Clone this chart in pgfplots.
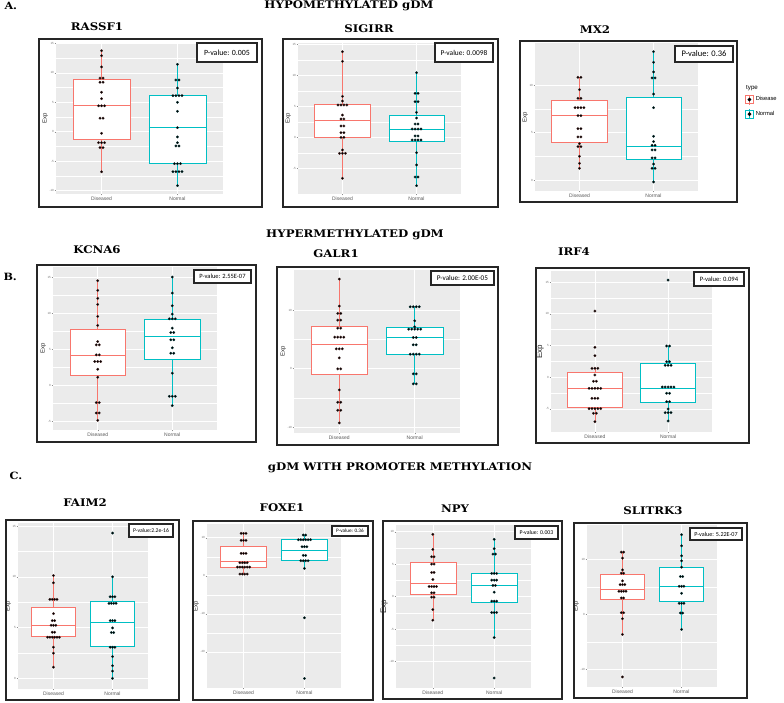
\documentclass[border=0pt]{standalone}
\usepackage{fontspec}
\setmainfont{Liberation Sans}
\newfontfamily\titlefont[FakeStretch=1.12]{DejaVu Serif}
\newfontfamily\pfont{Carlito}
\usepackage{pgfplots}
\pgfplotsset{compat=1.18}
\definecolor{ggred}{HTML}{F8766D}
\definecolor{ggcyan}{HTML}{00BFC4}
\definecolor{ggbg}{HTML}{EBEBEB}
\pgfplotsset{
 gg/.style={
  scale only axis, anchor=north west,
  axis background/.style={fill=ggbg},
  xmin=0.4, xmax=2.6, xtick={1,2}, xticklabels={Diseased,Normal},
  axis x line*=bottom, axis y line*=left,
  axis line style={draw=none},
  xmajorgrids, ymajorgrids, yminorgrids, minor y tick num=1,
  major grid style={white, line width=0.6pt},
  minor grid style={white, line width=0.3pt},
  major tick length=1.3pt, minor tick length=0pt, tick align=outside,
  tick style={black!45, line width=0.3pt},
  yticklabel style={font=\fontsize{3}{3}\selectfont, text=black!55, inner sep=0.6pt},
  xticklabel style={font=\fontsize{5}{6}\selectfont, text=black!65, inner sep=1.2pt},
  ylabel={Exp}, ylabel style={font=\fontsize{6}{6}\selectfont, text=black!85, inner sep=1pt},
  /pgf/number format/assume math mode=true,
 },
 ddot/.style={only marks, mark=*, mark size=1.3pt, mark options={fill=black, draw=ggred!30!black, line width=0.2pt}},
 ndot/.style={only marks, mark=*, mark size=1.3pt, mark options={fill=black, draw=ggcyan!30!black, line width=0.2pt}},
}
% q1 med q3 wlo whi
\newcommand\dbox[5]{%
  \addplot[ggred, line width=0.5pt] coordinates {(1,#4)(1,#5)};
  \addplot[ggred, fill=white, line width=0.5pt] coordinates {(0.625,#1)(1.375,#1)(1.375,#3)(0.625,#3)} -- cycle;
  \addplot[ggred, line width=0.6pt] coordinates {(0.625,#2)(1.375,#2)};
}
\newcommand\nbox[5]{%
  \addplot[ggcyan, line width=0.5pt] coordinates {(2,#4)(2,#5)};
  \addplot[ggcyan, fill=white, line width=0.5pt] coordinates {(1.625,#1)(2.375,#1)(2.375,#3)(1.625,#3)} -- cycle;
  \addplot[ggcyan, line width=0.6pt] coordinates {(1.625,#2)(2.375,#2)};
}
\newcommand\frm[4]{\draw[line width=1.5pt, black!85] (#1pt,-#2pt) rectangle (#3pt,-#4pt);}
\newcommand\pbox[6]{\draw[line width=1.2pt, fill=white, draw=black!85] (#1pt,-#2pt) rectangle (#3pt,-#4pt);
  \node[font=\pfont\fontsize{#5}{#5}\selectfont, inner sep=0pt] at ({(#1+#3)/2*1pt},{-(#2+#4)/2*1pt}) {#6};}
\newcommand\gtitle[3]{\node[font=\titlefont\bfseries\fontsize{10.5}{10.5}\selectfont] at (#1pt,-#2pt) {#3};}
\newcommand\stitle[3]{\node[font=\titlefont\bfseries\fontsize{10.5}{10.5}\selectfont] at (#1pt,-#2pt) {#3};}
\begin{document}
\begin{tikzpicture}
\path[use as bounding box] (0,0) rectangle (784pt,-703pt);
% ---------------- A ----------------
\begin{axis}[gg, at={(56pt,-43pt)}, width=167pt, height=151pt, ymin=-10.57, ymax=15.06, ytick={-10,-5,0,5,10,15}]
\dbox{-1.24}{4.5}{8.9}{-6.8}{13.76}
\nbox{-5.42}{0.69}{6.12}{-9.15}{11.44}
\addplot[ddot] coordinates {(1,13.76)(1,12.9)(1,11)(0.98,9.1)(1.02,9.1)(0.98,8.4)(1.02,8.4)(1,6.7)(1,5.6)(0.96,4.4)(1,4.4)(1.04,4.4)(0.98,2.3)(1.02,2.3)(1,-0.27)(0.96,-1.86)(1,-1.86)(1.04,-1.86)(0.98,-2.7)(1.02,-2.7)(1,-6.8)};
\addplot[ndot] coordinates {(2,11.44)(1.98,8.78)(2.02,8.78)(2,7.42)(1.94,6.12)(1.98,6.12)(2.02,6.12)(2.06,6.12)(2,4.99)(2,3.46)(2,0.69)(2,-0.89)(2,-1.86)(1.98,-2.42)(2.02,-2.42)(1.96,-5.42)(2,-5.42)(2.04,-5.42)(1.94,-6.78)(1.98,-6.78)(2.02,-6.78)(2.06,-6.78)(2,-9.15)};
\end{axis}
\begin{axis}[gg, at={(298pt,-43pt)}, width=163pt, height=151pt, ymin=-9.14, ymax=15.22, ytick={-5,0,5,10,15}]
\dbox{0}{2.74}{5.32}{-6.61}{13.82}
\nbox{-0.7}{1.29}{3.49}{-7.8}{10.43}
\addplot[ddot] coordinates {(1,13.82)(1,12.26)(1,6.61)(1,5.86)(0.94,5.22)(0.98,5.22)(1.02,5.22)(1.06,5.22)(1,3.6)(0.98,2.96)(1.02,2.96)(0.98,1.83)(1.02,1.83)(0.98,0.75)(1.02,0.75)(0.98,0)(1.02,0)(1,-2.04)(0.96,-2.58)(1,-2.58)(1.04,-2.58)(1,-6.61)};
\addplot[ndot] coordinates {(2,10.43)(1.98,7.1)(2.02,7.1)(1.98,5.75)(2.02,5.75)(2,4.03)(2,3.12)(1.98,2.15)(2.02,2.15)(1.94,1.34)(1.98,1.34)(2.02,1.34)(2.06,1.34)(1.98,0.22)(2.02,0.22)(1.94,-0.43)(1.98,-0.43)(2.02,-0.43)(2.06,-0.43)(2,-2.47)(2,-4.46)(1.98,-6.4)(2.02,-6.4)(2,-7.8)};
\end{axis}
\begin{axis}[gg, at={(535pt,-43pt)}, width=163pt, height=148pt, ymin=-1.16, ymax=14.42, ytick={0,5,10},
  legend style={at={(1.288,0.655)}, anchor=north west, draw=none, fill=none, font=\fontsize{5.8}{6.5}\selectfont, row sep=4pt, inner sep=0pt, cells={anchor=west}},
  legend cell align=left]
\addlegendimage{legend image code/.code={\draw[ggred, line width=0.6pt] (0pt,-4pt) rectangle (8pt,4pt); \draw[ggred, line width=0.6pt] (4pt,-5pt)--(4pt,5pt); \fill[black] (4pt,0pt) circle (1.7pt);}}
\addlegendimage{legend image code/.code={\draw[ggcyan, line width=0.6pt] (0pt,-4pt) rectangle (8pt,4pt); \draw[ggcyan, line width=0.6pt] (4pt,-5pt)--(4pt,5pt); \fill[black] (4pt,0pt) circle (1.7pt);}}
\dbox{3.96}{6.81}{8.39}{1.23}{10.81}
\nbox{2.18}{3.58}{8.7}{-0.21}{13.51}
\addplot[ddot] coordinates {(0.98,10.81)(1.02,10.81)(1,9.51)(0.98,8.6)(1.02,8.6)(0.94,7.61)(0.98,7.61)(1.02,7.61)(1.06,7.61)(0.98,6.77)(1.02,6.77)(0.98,5.4)(1.02,5.4)(0.98,4.53)(1.02,4.53)(1,3.82)(0.98,3.51)(1.02,3.51)(1,2.49)(1,1.75)(1,1.23)};
\addplot[ndot] coordinates {(2,13.51)(2,12.39)(2,11.37)(1.98,10.74)(2.02,10.74)(2,9.05)(2,7.61)(2,4.6)(2,4.04)(1.98,3.65)(2.02,3.65)(1.98,3.16)(2.02,3.16)(1.98,2.32)(2.02,2.32)(2,1.68)(1.98,1.23)(2.02,1.23)(2,-0.21)};
\legend{Disease,Normal}
\end{axis}
% ---------------- B ----------------
\begin{axis}[gg, at={(53pt,-267pt)}, width=164pt, height=163pt, ymin=-6.2, ymax=16.39, ytick={-5,0,5,10,15}]
\dbox{1.39}{4.17}{7.78}{-4.86}{14.49}
\nbox{3.61}{6.76}{9.17}{-2.82}{15}
\addplot[ddot] coordinates {(1,14.49)(1,13.15)(1,12.04)(1,11.2)(1,9.54)(1,8.29)(1,6.06)(0.98,5.6)(1.02,5.6)(0.98,4.21)(1.02,4.21)(0.96,3.29)(1,3.29)(1.04,3.29)(1,2.22)(1,1.11)(0.98,-2.41)(1.02,-2.41)(0.98,-3.84)(1.02,-3.84)(1,-4.86)};
\addplot[ndot] coordinates {(2,15)(2,12.78)(2,11.02)(2,9.86)(1.96,9.21)(2,9.21)(2.04,9.21)(2,7.92)(1.98,7.31)(2.02,7.31)(1.98,6.3)(2.02,6.3)(2,5.19)(1.98,4.44)(2.02,4.44)(2,1.67)(1.96,-1.53)(2,-1.53)(2.04,-1.53)(2,-2.82)};
\end{axis}
\begin{axis}[gg, at={(294pt,-270pt)}, width=166pt, height=163pt, ymin=-11.03, ymax=16.86, ytick={-10,0,10}]
\dbox{-1.03}{4.17}{7.26}{-9.31}{15.31}
\nbox{2.4}{5.31}{7.03}{-2.63}{10.57}
\addplot[ddot] coordinates {(1,15.31)(1,10.69)(0.98,9.43)(1.02,9.43)(0.98,8.29)(1.02,8.29)(0.98,6.91)(1.02,6.91)(0.94,5.37)(0.98,5.37)(1.02,5.37)(1.06,5.37)(0.96,3.37)(1,3.37)(1.04,3.37)(1,1.83)(0.98,-0.06)(1.02,-0.06)(1,-3.66)(0.98,-5.77)(1.02,-5.77)(0.98,-7.14)(1.02,-7.14)(1,-9.31)};
\addplot[ndot] coordinates {(1.94,10.57)(1.98,10.57)(2.02,10.57)(2.06,10.57)(2,8.17)(2,7.14)(1.92,6.74)(1.96,6.74)(2,6.74)(2.04,6.74)(2.08,6.74)(1.98,5.31)(2.02,5.31)(1.98,4.06)(2.02,4.06)(1.94,2.46)(1.98,2.46)(2.02,2.46)(2.06,2.46)(1.98,-0.91)(2.02,-0.91)(1.98,-2.63)(2.02,-2.63)};
\end{axis}
\begin{axis}[gg, at={(551pt,-271pt)}, width=161pt, height=161pt, ymin=-8.63, ymax=16.74, ytick={-5,0,5,10,15}, ylabel style={font=\fontsize{8}{8}\selectfont}]
\dbox{-4.74}{-1.75}{0.77}{-7}{1.4}
\nbox{-3.95}{-1.69}{2.14}{-6.89}{4.92}
\addplot[ddot] coordinates {(1,10.43)(1,4.71)(1,3.4)(0.96,1.4)(1,1.4)(1.04,1.4)(1,0.35)(0.98,-0.64)(1.02,-0.64)(0.92,-1.75)(0.96,-1.75)(1,-1.75)(1.04,-1.75)(1.08,-1.75)(0.96,-3.32)(1,-3.32)(1.04,-3.32)(0.92,-4.95)(0.96,-4.95)(1,-4.95)(1.04,-4.95)(1.08,-4.95)(0.98,-5.68)(1.02,-5.68)(1,-7)};
\addplot[ndot] coordinates {(2,15.31)(1.98,4.92)(2.02,4.92)(1.98,2.45)(2.02,2.45)(1.96,1.88)(2,1.88)(2.04,1.88)(1.92,-1.54)(1.96,-1.54)(2,-1.54)(2.04,-1.54)(2.08,-1.54)(1.98,-2.53)(2.02,-2.53)(1.98,-3.85)(2.02,-3.85)(2,-5)(1.96,-5.58)(2,-5.58)(2.04,-5.58)(2,-6.89)};
\end{axis}
% ---------------- C ----------------
\begin{axis}[gg, at={(18pt,-523pt)}, width=130pt, height=166pt, ymin=-1.08, ymax=15.33, ytick={0,5,10,15}]
\dbox{4.17}{5.25}{6.99}{1.08}{10.14}
\nbox{3.19}{5.55}{7.62}{-0.03}{10.01}
\addplot[ddot] coordinates {(1,10.14)(1,9.42)(0.94,7.78)(0.98,7.78)(1.02,7.78)(1.06,7.78)(1,6.37)(0.98,5.68)(1.02,5.68)(0.96,5.22)(1,5.22)(1.04,5.22)(0.98,4.53)(1.02,4.53)(0.9,4.04)(0.94,4.04)(0.98,4.04)(1.02,4.04)(1.06,4.04)(1.1,4.04)(1,3.05)(1,2.46)(1,1.08)};
\addplot[ndot] coordinates {(2,14.34)(2,10.01)(1.96,8.04)(2,8.04)(2.04,8.04)(1.94,7.39)(1.98,7.39)(2.02,7.39)(2.06,7.39)(1.96,5.68)(2,5.68)(2.04,5.68)(2,4.96)(1.98,4.5)(2.02,4.5)(1.96,3.05)(2,3.05)(2.04,3.05)(2,2.13)(2,1.22)(2,0.69)(2,-0.03)};
\end{axis}
\begin{axis}[gg, at={(207pt,-524pt)}, width=134pt, height=164pt, ymin=-29.5, ymax=13.6, ytick={-20,-10,0,10}]
\dbox{2.19}{3.77}{7.63}{0.44}{11.14}
\nbox{4.12}{6.75}{9.56}{1.93}{10.7}
\addplot[ddot] coordinates {(0.96,11.14)(1,11.14)(1.04,11.14)(0.96,9.3)(1,9.3)(1.04,9.3)(0.96,5.88)(1,5.88)(1.04,5.88)(0.94,3.42)(0.98,3.42)(1.02,3.42)(1.06,3.42)(0.9,2.28)(0.94,2.28)(0.98,2.28)(1.02,2.28)(1.06,2.28)(1.1,2.28)(0.94,0.44)(0.98,0.44)(1.02,0.44)(1.06,0.44)};
\addplot[ndot] coordinates {(1.98,10.7)(2.02,10.7)(1.9,9.47)(1.94,9.47)(1.98,9.47)(2.02,9.47)(2.06,9.47)(2.1,9.47)(1.96,7.63)(2,7.63)(2.04,7.63)(1.98,5.35)(2.02,5.35)(1.94,3.95)(1.98,3.95)(2.02,3.95)(2.06,3.95)(2,1.93)(2,-11.05)(2,-27)};
\end{axis}
\begin{axis}[gg, at={(396pt,-525pt)}, width=135pt, height=163pt, ymin=-14.07, ymax=11.03, ytick={-10,-5,0,5,10}, ylabel style={font=\fontsize{8}{8}\selectfont}]
\dbox{0.43}{2.13}{5.22}{-3.63}{9.59}
\nbox{-0.8}{1.77}{3.67}{-6.31}{8.82}
\addplot[ddot] coordinates {(1,9.59)(1,7.27)(0.98,6.14)(1.02,6.14)(0.98,5.01)(1.02,5.01)(0.98,3.72)(1.02,3.72)(1,2.64)(0.94,1.56)(0.98,1.56)(1.02,1.56)(1.06,1.56)(0.98,0.59)(1.02,0.59)(0.98,-0.08)(1.02,-0.08)(1,-1.99)(1,-3.63)};
\addplot[ndot] coordinates {(2,8.82)(2,7.38)(1.98,6.55)(2.02,6.55)(1.96,3.57)(2,3.57)(2.04,3.57)(1.96,2.54)(2,2.54)(2.04,2.54)(1.98,1.72)(2.02,1.72)(2,0.69)(1.96,-0.7)(2,-0.7)(2.04,-0.7)(1.96,-2.45)(2,-2.45)(2.04,-2.45)(2,-6.31)(2,-12.53)};
\end{axis}
\begin{axis}[gg, at={(587pt,-525pt)}, width=130pt, height=162pt, ymin=-13.15, ymax=16.18, ytick={-10,0,10}]
\dbox{2.73}{4.55}{7.21}{-3.64}{11.27}
\nbox{2.3}{5.09}{8.55}{-2.73}{14.42}
\addplot[ddot] coordinates {(0.98,11.27)(1.02,11.27)(1,10.18)(1,8.06)(0.98,7.45)(1.02,7.45)(1,6.06)(0.96,5.39)(1,5.39)(1.04,5.39)(0.94,4.18)(0.98,4.18)(1.02,4.18)(1.06,4.18)(0.98,2.97)(1.02,2.97)(0.98,0.3)(1.02,0.3)(1,-0.79)(1,-3.64)(1,-11.33)};
\addplot[ndot] coordinates {(2,14.42)(2,12.42)(2,10.61)(2,9.7)(2,8.55)(1.98,6.85)(2.02,6.85)(1.96,5.09)(2,5.09)(2.04,5.09)(2,3.82)(1.96,2)(2,2)(2.04,2)(1.98,0.24)(2.02,0.24)(2,-2.73)};
\end{axis}
% frames
\frm{39}{39}{262}{207}
\frm{283}{39}{498}{207}
\frm{520}{41}{737}{202}
\frm{37}{265}{256}{442}
\frm{277}{267}{498}{445}
\frm{536}{268}{749}{443}
\frm{6}{520}{179}{700}
\frm{193}{521}{373}{700}
\frm{383}{521}{562}{699}
\frm{574}{523}{747}{698}
% p-value boxes
\pbox{197}{43}{257}{62}{7.9}{P-value: 0.005}
\pbox{435}{43}{493}{62}{7.4}{P-value: 0.0098}
\pbox{675}{46}{733}{62}{8.5}{P-value: 0.36}
\pbox{194}{270}{251}{283}{6.5}{P-value: 2.55E-07}
\pbox{431}{271}{494}{285}{7.2}{P-value: 2.00E-05}
\pbox{694}{272}{744}{286}{6.6}{P-value: 0.094}
\pbox{129}{524}{173}{537}{5.7}{P-value:2.2e-16}
\pbox{332}{526}{368}{536}{5.2}{P-value: 0.36}
\pbox{515}{526}{558}{539}{5.8}{P-value: 0.003}
\pbox{690}{528}{742}{540}{6.1}{P-value: 5.22E-07}
% legend title
\node[anchor=west, font=\fontsize{6.2}{7}\selectfont, inner sep=0pt] at (746pt,-88pt) {type};
% titles
\node[anchor=west, font=\titlefont\bfseries\fontsize{10}{10}\selectfont] at (1pt,-6pt) {A.};
\node[anchor=west, font=\titlefont\bfseries\fontsize{10}{10}\selectfont] at (0pt,-277pt) {B.};
\node[anchor=west, font=\titlefont\bfseries\fontsize{10}{10}\selectfont] at (6pt,-476pt) {C.};
\stitle{349}{6}{HYPOMETHYLATED gDM}
\stitle{355}{235}{HYPERMETHYLATED gDM}
\stitle{400}{468}{gDM WITH PROMOTER METHYLATION}
\gtitle{97}{27}{RASSF1}
\gtitle{369}{29}{SIGIRR}
\gtitle{595}{30}{MX2}
\gtitle{97}{250}{KCNA6}
\gtitle{336}{254}{GALR1}
\gtitle{574}{252}{IRF4}
\gtitle{85}{503}{FAIM2}
\gtitle{282}{508}{FOXE1}
\gtitle{455}{509}{NPY}
\gtitle{653}{511}{SLITRK3}
\end{tikzpicture}
\end{document}
